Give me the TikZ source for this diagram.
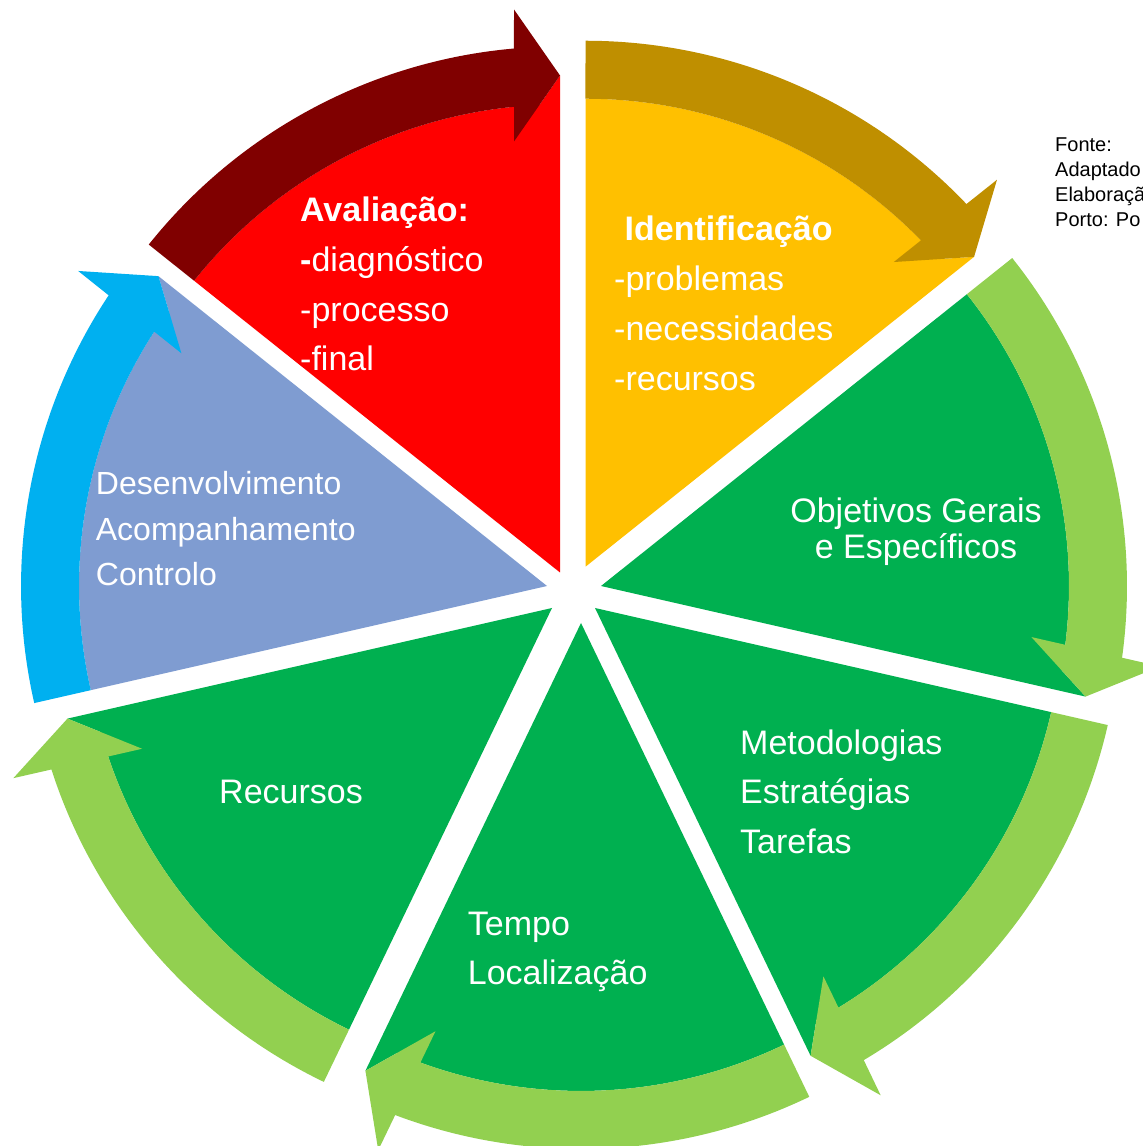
\documentclass[tikz,border=0pt]{standalone}
\usepackage{fontspec}
\setmainfont{Liberation Sans}

\definecolor{idyellow}{HTML}{FFC000}
\definecolor{idgold}{HTML}{BF8F00}
\definecolor{avred}{HTML}{FF0000}
\definecolor{avdark}{HTML}{800000}
\definecolor{devblue}{HTML}{7F9CD1}
\definecolor{devcyan}{HTML}{00B0F0}
\definecolor{stepgreen}{HTML}{00B050}
\definecolor{steplight}{HTML}{92D050}

\tikzset{
  lbl/.style={text=white, anchor=base west, inner sep=0pt, font=\fontsize{34}{40}\selectfont},
  lblc/.style={lbl, anchor=base},
  lbls/.style={lbl, font=\fontsize{32}{38}\selectfont},
  note/.style={text=black, anchor=base west, inner sep=0pt, font=\fontsize{20}{24}\selectfont}
}

% pie segment with its own apex (#1,#2), spanning 51.43 degrees counter-clockwise from #3;
% along its clockwise edge it reaches out to the arrow tip
\newcommand{\cycsector}[4]{%
  \begin{scope}[shift={(#1pt,#2pt)}, rotate=#3]
    \fill[#4] (0pt,0pt) -- (497pt,0pt) -- (431pt,46pt) -- (0:468pt)
      -- (0:468pt) arc[start angle=0, end angle=51.43, radius=468pt] -- cycle;
  \end{scope}}

% curved band around the segment, head pointing clockwise at angle #3
\newcommand{\cycarrow}[4]{%
  \begin{scope}[shift={(#1pt,#2pt)}, rotate=#3]
    \fill[#4] (51.43:526pt) arc[start angle=51.43, end angle=5.02, radius=526pt]
      -- (563pt,46pt) -- (497pt,0pt) -- (431pt,46pt) -- (465.7pt,46pt)
      arc[start angle=5.64, end angle=51.43, radius=468pt] -- cycle;
  \end{scope}}

\begin{document}
\begin{tikzpicture}[x=1pt,y=1pt]
  \useasboundingbox (0,0) rectangle (1143,1146);
  \clip (0,0) rectangle (1143,1146);
  \fill[white] (0,0) rectangle (1143,1146);

  % segments
  \cycsector{560}{573.5}{90}{avred}
  \cycsector{585.5}{579.3}{38.57}{idyellow}
  \cycsector{601}{560}{-12.86}{stepgreen}
  \cycsector{595}{538}{-64.29}{stepgreen}
  \cycsector{581}{523}{-115.71}{stepgreen}
  \cycsector{552}{538}{-167.14}{stepgreen}
  \cycsector{547}{560}{-218.57}{devblue}

  % arrows
  \cycarrow{560}{573.5}{90}{avdark}
  \cycarrow{585.5}{579.3}{38.57}{idgold}
  \cycarrow{601}{560}{-12.86}{steplight}
  \cycarrow{595}{538}{-64.29}{steplight}
  \cycarrow{581}{523}{-115.71}{steplight}
  \cycarrow{552}{538}{-167.14}{steplight}
  \cycarrow{547}{560}{-218.57}{devcyan}

  % Avaliação
  \node[lbl] (av1) at (300,924) {\textbf{Avaliação:}};
  \node[lbl] (av2) at (300,874) {\textbf{-}diagnóstico};
  \node[lbl] (av3) at (300,824.5) {-processo};
  \node[lbl] (av4) at (300,775) {-final};

  % Identificação
  \node[lbl] (id1) at (624.5,905) {\textbf{Identificação}};
  \node[lbl] (id2) at (614,855) {-problemas};
  \node[lbl] (id3) at (614,805.4) {-necessidades};
  \node[lbl] (id4) at (614,755) {-recursos};

  % Objetivos
  \node[lblc] (ob1) at (916,623.6) {Objetivos Gerais};
  \node[lblc] (ob2) at (916,587.3) {e Específicos};

  % Metodologias
  \node[lbl] (me1) at (740,391.4) {Metodologias};
  \node[lbl] (me2) at (740,342) {Estratégias};
  \node[lbl] (me3) at (740,292) {Tarefas};

  % Tempo
  \node[lbl] (te1) at (467.7,210.4) {Tempo};
  \node[lbl] (te2) at (467.7,161) {Localização};

  % Recursos
  \node[lbl] (re1) at (219,342) {Recursos};

  % Desenvolvimento
  \node[lbls] (de1) at (95.7,651.2) {Desenvolvimento};
  \node[lbls] (de2) at (95.7,605.2) {Acompanhamento};
  \node[lbls] (de3) at (95.7,560) {Controlo};

  % source note
  \node[note] (fo1) at (1055,994) {Fonte:};
  \node[note] (fo2) at (1055,969) {Adaptado};
  \node[note] (fo3) at (1055,944) {Elaboração};
  \node[note] (fo4) at (1055,919) {Porto: Po};
\end{tikzpicture}
\end{document}
